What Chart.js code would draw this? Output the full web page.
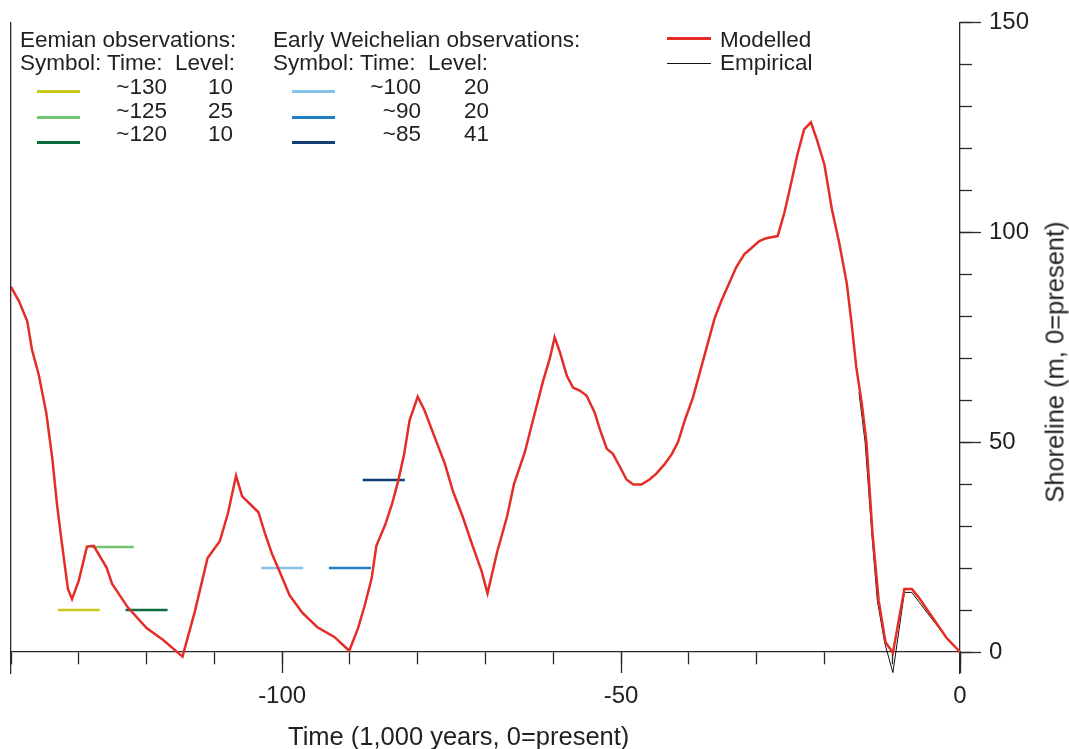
<!doctype html>
<html>
  <head>
    <meta charset="utf-8">
    <script src="https://cdn.jsdelivr.net/npm/chart.js@4.4.1/dist/chart.umd.min.js"></script>
    <style>
      body { margin:0; background:#fff; font-family:"Liberation Sans", Arial, sans-serif; color:#231f20; }
      #wrap { position:relative; width:1069px; height:749px; }
      .t { position:absolute; font-size:22.5px; line-height:24px; white-space:pre; }
      .sw { position:absolute; }
      #xtitle { position:absolute; left:288px; top:736px; transform:translateY(-50%); font-size:25.5px; white-space:pre; }
      #ytitle { position:absolute; left:1055px; top:362px; transform:translate(-50%,-50%) rotate(-90deg); font-size:25.5px; white-space:pre; }
    </style>
    <script>
      // modelled shoreline (red), 1,000 years vs m
      let modelTime = [-140, -138.8, -137.6, -136.9, -135.9, -134.8, -133.9, -133.2, -132.5, -131.6, -131.0,
        -130.0, -128.8, -127.8, -125.9, -125.1, -122.8, -120.0, -117.6, -114.7,
        -112.9, -111.0, -109.2, -108.0, -106.8, -105.9, -104.7, -103.5, -102.5, -101.5, -100.3,
        -98.9, -97.0, -94.8, -92.3, -90.1, -88.8, -87.8, -86.8, -86.1, -84.8, -83.8, -82.9, -82.0, -81.2, -80.0,
        -79.0, -77.5, -76.0, -74.8, -73.4, -71.9, -70.6, -69.7, -68.3, -66.8, -65.8, -64.2, -63.0, -61.5, -60.5, -59.8,
        -59.0, -58.0, -57.1, -56.1, -55.1, -53.9, -53.1, -52.1, -51.2, -50.2, -49.2, -48.2, -47.0, -45.8, -44.8,
        -43.6, -42.5, -41.6, -40.6, -39.4, -38.4, -37.4, -36.2, -35.2, -34.1, -33.0, -31.8, -30.8, -29.6, -28.6,
        -26.9, -25.9, -24.9, -24.0, -23.0, -22.0, -21.1, -20.0, -18.9, -17.8, -16.7, -16.0, -15.3, -14.5, -13.8,
        -12.9, -12.0, -11.0, -9.9, -8.2, -7.1, -6.0, -2.0, 0];
      let modelLevel = [87, 83.5, 78.8, 72, 66, 57, 46, 35, 26, 15, 12.6,
        17, 25.1, 25.3, 20.1, 16.3, 10.7, 5.7, 2.9, -1.1,
        9.5, 22.4, 26.4, 33.0, 42.0, 37.1, 35.2, 33.3, 28.1, 23.4, 18.9,
        13.5, 9.3, 5.9, 3.6, 0.3, 5.7, 11.2, 17.5, 25.3, 30.3, 35.2, 40.6, 47.2, 55.2, 60.8,
        57.6, 51.2, 44.9, 38.3, 32.4, 25.3, 19.4, 14.0, 23.7, 32.4, 40.0, 47.6, 55.2, 64.6, 70.0, 75.0,
        71.3, 65.8, 63.0, 62.3, 61.1, 57.1, 52.9, 48.4, 47.2, 44.2, 41.1, 39.9, 39.9, 41.1, 42.5,
        44.7, 47.2, 50.0, 55.2, 60.6, 66.5, 72.4, 79.5, 83.7, 87.7, 91.7, 94.8, 96.2, 97.9, 98.6,
        99.1, 104.7, 111.8, 118.4, 124.5, 126.2, 122.0, 116.1, 105.5, 97.3, 87.8, 78.4, 67.8, 59.4, 50.0,
        28.1, 12.3, 2.4, -0.2, 15.0, 15.0, 12.8, 3.4, 0];

      // empirical shoreline (black)
      let empTime = [-14.9, -14.0, -13.0, -12.2, -11.1, -9.9, -8.2, -7.1, -6.0, -2.0, 0];
      let empLevel = [61.8, 50, 28.1, 12.3, 2.1, -4.9, 14.2, 14.2, 11.8, 3.4, 0];

      // observations: Eemian (first three), Early Weichelian (last three)
      let obsTime = [-130, -125, -120, -100, -90, -85];
      let obsLevel = [10, 25, 10, 20, 20, 41];
      let obsColors = ['#c9c81d', '#72c36f', '#0b6b3c', '#86c2ea', '#1f80c3', '#0f3f73'];
      let obsHalfWidth = 3.1;

      let xTickLabels = [-100, -50, 0];
      let yTickLabels = [0, 50, 100, 150];

      let chart1;

      function xy(xs, ys) {
        return xs.map((v, i) => ({x: v, y: ys[i]}));
      }

      function buildLegend() {
        let wrap = document.getElementById('wrap');
        function txt(s, x, cy, right) {
          let d = document.createElement('div');
          d.className = 't';
          d.textContent = s;
          d.style.top = (cy - 11.75) + 'px';
          if (right) { d.style.right = (1069 - x) + 'px'; } else { d.style.left = x + 'px'; }
          wrap.appendChild(d);
        }
        function sw(color, x, w, cy, h) {
          let d = document.createElement('div');
          d.className = 'sw';
          d.style.left = x + 'px';
          d.style.width = w + 'px';
          d.style.top = (cy - h / 2) + 'px';
          d.style.height = h + 'px';
          d.style.background = color;
          wrap.appendChild(d);
        }
        let blocks = [
          {title: 'Eemian observations:', left: 20, sw: 37, time: 167, level: 233, idx: [0, 1, 2]},
          {title: 'Early Weichelian observations:', left: 273, sw: 292, time: 421, level: 489, idx: [3, 4, 5]}
        ];
        let rowY = [87, 111, 134];
        let swY = [91.7, 117.3, 142.7];
        blocks.forEach(b => {
          txt(b.title, b.left, 40);
          txt('Symbol: Time:  Level:', b.left, 62.5);
          b.idx.forEach((k, r) => {
            sw(obsColors[k], b.sw, 43, swY[r], 2.5);
            txt('~' + (-obsTime[k]), b.time, rowY[r], true);
            txt(String(obsLevel[k]), b.level, rowY[r], true);
          });
        });
        sw('#e52d27', 667, 44, 38.5, 2.5);
        txt('Modelled', 720, 40);
        sw('#111', 667, 44, 63.3, 1);
        txt('Empirical', 720, 63);
      }

      function startPage() {
        buildLegend();
        let datasets = [
          {label: 'Modelled', data: xy(modelTime, modelLevel), borderColor: '#e52d27', borderWidth: 2.5, xAxisID: 'x', yAxisID: 'y'},
          {label: 'Empirical', data: xy(empTime, empLevel), borderColor: '#111', borderWidth: 1, xAxisID: 'x', yAxisID: 'y'}
        ];
        obsTime.forEach((t, i) => {
          datasets.push({
            label: 'obs ' + t,
            data: [{x: t - obsHalfWidth, y: obsLevel[i]}, {x: t + obsHalfWidth, y: obsLevel[i]}],
            borderColor: obsColors[i], borderWidth: 2.5, xAxisID: 'x', yAxisID: 'y'
          });
        });
        let axisColor = '#2a2a2a';
        chart1 = new Chart(document.getElementById('c1'), {
          type: 'line',
          data: {datasets: datasets},
          options: {
            responsive: true,
            maintainAspectRatio: false,
            animation: false,
            layout: {padding: {left: 11, top: 16, right: 0, bottom: 76}},
            plugins: {legend: {display: false}, tooltip: {enabled: false}},
            elements: {point: {radius: 0}, line: {tension: 0, borderCapStyle: 'butt'}},
            scales: {
              x: {
                type: 'linear', axis: 'x', min: -140, max: 0, position: {y: 0},
                ticks: {display: false, stepSize: 10},
                grid: {drawOnChartArea: false, tickLength: 12, tickColor: axisColor, tickWidth: 1.3},
                border: {color: axisColor, width: 1.3}
              },
              xMajor: {
                type: 'linear', axis: 'x', min: -140, max: 0, position: {y: 0},
                afterBuildTicks: s => { s.ticks = xTickLabels.map(v => ({value: v})); },
                ticks: {stepSize: 50, includeBounds: false, maxRotation: 0, padding: 9, color: '#231f20', font: {size: 24}},
                grid: {drawOnChartArea: false, tickLength: 21, tickColor: axisColor, tickWidth: 1.3},
                border: {display: false}
              },
              y: {
                type: 'linear', axis: 'y', position: 'right', min: -5, max: 150,
                afterBuildTicks: s => { s.ticks = yTickLabels.map(v => ({value: v})); },
                afterFit: s => { s.width = 109; },
                ticks: {stepSize: 50, includeBounds: false, padding: 8, color: '#231f20', font: {size: 24}},
                grid: {drawOnChartArea: false, tickLength: 21, tickColor: axisColor, tickWidth: 1.3},
                border: {color: axisColor, width: 1.3}
              },
              yMinor: {
                type: 'linear', axis: 'y', position: {x: 0}, min: -5, max: 150,
                ticks: {display: false, stepSize: 10, includeBounds: false},
                grid: {drawOnChartArea: false, tickLength: -12, tickColor: axisColor, tickWidth: 1.3},
                border: {display: false}
              },
              yLeft: {
                type: 'linear', axis: 'y', position: 'left', min: -5, max: 150,
                ticks: {display: false},
                grid: {drawOnChartArea: false, drawTicks: false},
                border: {color: axisColor, width: 1.3}
              }
            }
          }
        });
      }
    </script>
  </head>
  <body onload="startPage()">
    <div id="wrap">
      <canvas id="c1"></canvas>
      <div id="xtitle">Time (1,000 years, 0=present)</div>
      <div id="ytitle">Shoreline (m, 0=present)</div>
    </div>
  </body>
</html>
